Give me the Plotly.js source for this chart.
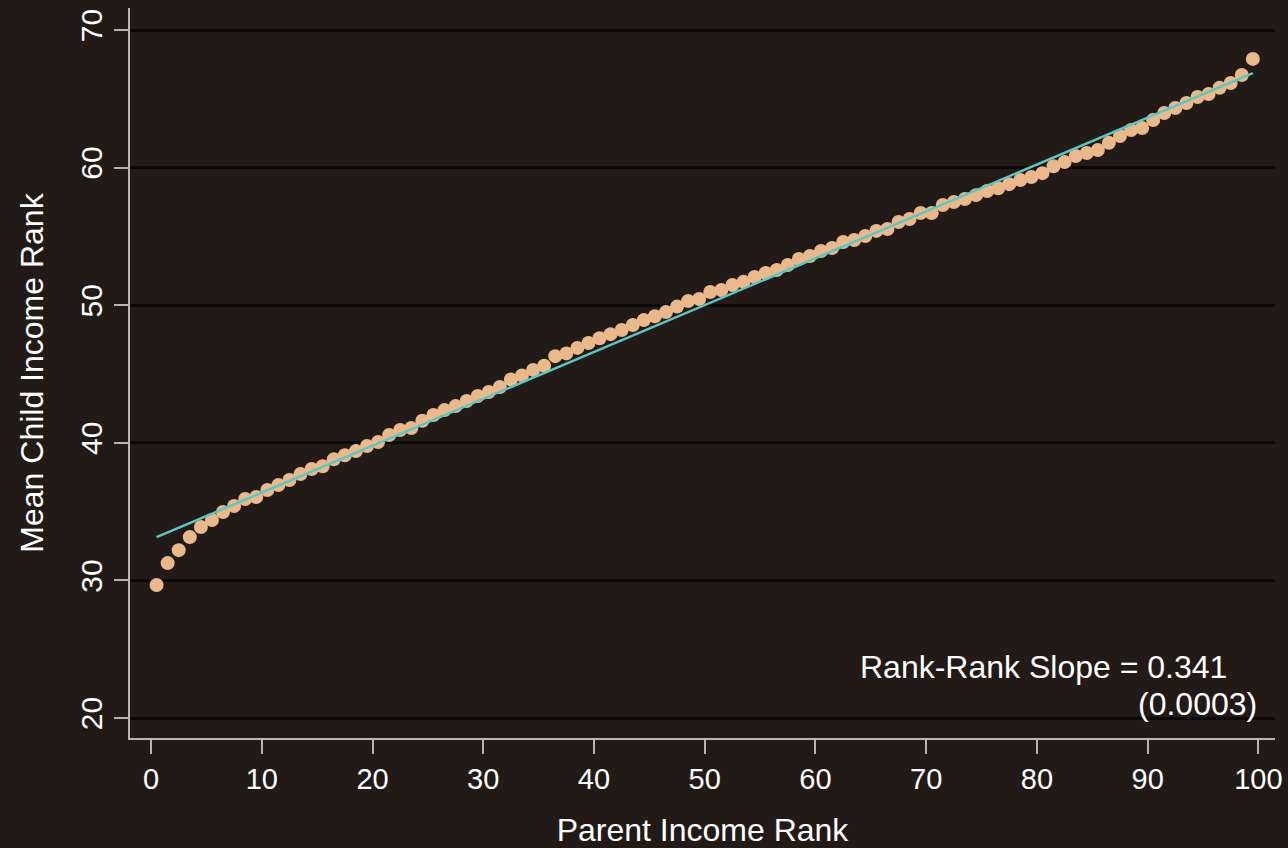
<!DOCTYPE html>
<html>
<head>
<meta charset="utf-8">
<script src="https://cdn.plot.ly/plotly-3.0.1.min.js"></script>
<style>html,body{margin:0;padding:0;background:#211a16;}</style>
</head>
<body>
<div id="chart" style="width:1288px;height:848px;"></div>
<script>
// Parent income percentile (bin midpoints)
const parentRank = [];
for (let i = 0; i < 100; i++) parentRank.push(i + 0.5);

// Mean child income rank per parent percentile
const childRank = [
  29.67, 31.26, 32.20, 33.15, 33.88, 34.39, 34.97, 35.41, 35.92, 36.06,
  36.57, 36.93, 37.30, 37.73, 38.10, 38.30, 38.80, 39.10, 39.40, 39.77,
  40.06, 40.57, 40.93, 41.08, 41.60, 42.02, 42.38, 42.67, 43.04, 43.40,
  43.69, 44.06, 44.60, 44.90, 45.30, 45.60, 46.30, 46.50, 46.90, 47.25,
  47.60, 47.90, 48.20, 48.56, 48.92, 49.20, 49.50, 49.90, 50.30, 50.45,
  50.96, 51.10, 51.47, 51.70, 52.05, 52.34, 52.56, 52.92, 53.36, 53.58,
  53.94, 54.16, 54.60, 54.74, 55.03, 55.40, 55.54, 56.05, 56.27, 56.70,
  56.70, 57.28, 57.50, 57.72, 58.00, 58.30, 58.50, 58.80, 59.10, 59.32,
  59.60, 60.10, 60.40, 60.84, 61.06, 61.28, 61.80, 62.30, 62.73, 62.88,
  63.46, 63.97, 64.33, 64.70, 65.13, 65.35, 65.80, 66.15, 66.73, 67.90
];

// Fitted line endpoints (linear fit)
const fitX = [0.5, 99.5];
const fitY = [33.15, 66.87];

const xTicks = [0, 10, 20, 30, 40, 50, 60, 70, 80, 90, 100];
const yTicks = [20, 30, 40, 50, 60, 70];

const slopeLabel = "Rank-Rank Slope = 0.341";
const seLabel = "(0.0003)";

const font = "Liberation Sans, Arial, Helvetica, sans-serif";

const traces = [
  {
    x: parentRank, y: childRank, type: "scatter", mode: "markers",
    marker: {size: 14, color: "#e9b98c", line: {width: 0}},
    hoverinfo: "x+y"
  },
  {
    x: fitX, y: fitY, type: "scatter", mode: "lines",
    line: {color: "#5cc6c4", width: 2.5}
  }
];

const layout = {
  width: 1288, height: 848,
  paper_bgcolor: "#211a16", plot_bgcolor: "#211a16",
  showlegend: false,
  margin: {l: 130, r: 13, t: 8, b: 110},
  font: {family: font, color: "#ffffff", size: 30},
  xaxis: {
    range: [-1.9, 101.5],
    tickvals: xTicks, ticktext: xTicks.map(String),
    showgrid: false, zeroline: false,
    showline: true, linecolor: "#b5b5b5", linewidth: 2,
    ticks: "outside", ticklen: 14, tickwidth: 2, tickcolor: "#b5b5b5",
    tickfont: {family: font, size: 29, color: "#ffffff"},
    title: {text: "Parent Income Rank", font: {family: font, size: 32, color: "#ffffff"}, standoff: 26}
  },
  yaxis: {
    range: [18.55, 71.6],
    tickvals: yTicks, ticktext: yTicks.map(String),
    tickangle: -90,
    showgrid: true, gridcolor: "#0b0907", gridwidth: 3,
    zeroline: false,
    showline: true, linecolor: "#b5b5b5", linewidth: 2,
    ticks: "outside", ticklen: 14, tickwidth: 2, tickcolor: "#b5b5b5",
    tickfont: {family: font, size: 30, color: "#ffffff"},
    title: {text: "Mean Child Income Rank", font: {family: font, size: 32, color: "#ffffff"}, standoff: 22}
  },
  annotations: [
    {x: 1, xref: "paper", y: 0.097, yref: "paper", xanchor: "right", yanchor: "middle",
     text: slopeLabel, showarrow: false, xshift: -46,
     font: {family: font, size: 32, color: "#ffffff"}},
    {x: 1, xref: "paper", y: 0.047, yref: "paper", xanchor: "right", yanchor: "middle",
     text: seLabel, showarrow: false, xshift: -16,
     font: {family: font, size: 32, color: "#ffffff"}}
  ]
};

Plotly.newPlot("chart", traces, layout, {displayModeBar: false, staticPlot: true});
</script>
</body>
</html>
